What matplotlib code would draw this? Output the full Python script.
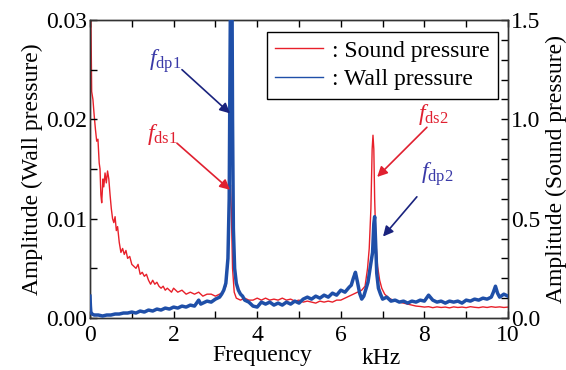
""" Spectra of sound pressure and wall pressure with dual amplitude axes """

import matplotlib.pyplot as plt
import numpy as np

plt.rcParams['font.family'] = 'serif'
plt.rcParams['font.serif'] = ['Liberation Serif', 'Times New Roman', 'DejaVu Serif']
plt.rcParams['mathtext.fontset'] = 'custom'
plt.rcParams['mathtext.rm'] = 'Liberation Serif'
plt.rcParams['mathtext.it'] = 'Liberation Serif:italic'

# sound pressure (right axis), kHz / amplitude
freq_sound = [0.00, 0.02, 0.04, 0.07, 0.10, 0.13, 0.16, 0.19, 0.22, 0.24,
              0.26, 0.28, 0.31, 0.33, 0.36, 0.39, 0.42, 0.45, 0.48, 0.51,
              0.54, 0.57, 0.60, 0.63, 0.66, 0.70, 0.74, 0.78, 0.82, 0.86,
              0.90, 0.95, 1.00, 1.05, 1.10, 1.15, 1.20, 1.25, 1.30, 1.35,
              1.40, 1.45, 1.50, 1.55, 1.60, 1.65, 1.70, 1.75, 1.80, 1.85,
              1.90, 1.95, 2.00, 2.10, 2.20, 2.30, 2.40, 2.50, 2.60, 2.70,
              2.80, 2.90, 3.00, 3.10, 3.18, 3.25, 3.30, 3.34, 3.36, 3.38,
              3.41, 3.45, 3.50, 3.60, 3.70, 3.80, 3.90, 4.00, 4.10, 4.20,
              4.30, 4.40, 4.50, 4.60, 4.70, 4.80, 4.90, 5.00, 5.10, 5.20,
              5.30, 5.40, 5.50, 5.60, 5.70, 5.80, 5.90, 6.00, 6.10, 6.20,
              6.30, 6.40, 6.50, 6.58, 6.64, 6.68, 6.72, 6.75, 6.77, 6.79,
              6.81, 6.84, 6.88, 6.93, 6.98, 7.05, 7.15, 7.25, 7.40, 7.50,
              7.60, 7.70, 7.80, 7.90, 8.00, 8.10, 8.20, 8.30, 8.40, 8.50,
              8.60, 8.70, 8.80, 8.90, 9.00, 9.10, 9.20, 9.30, 9.40, 9.50,
              9.60, 9.70, 9.80, 9.90, 10.00]
amp_sound = [1.60, 1.55, 1.14, 1.10, 1.02, 0.95, 0.89, 0.90, 0.78, 0.75,
             0.62, 0.58, 0.70, 0.66, 0.73, 0.68, 0.74, 0.70, 0.62, 0.55,
             0.50, 0.48, 0.51, 0.44, 0.46, 0.38, 0.33, 0.35, 0.32, 0.34,
             0.30, 0.31, 0.27, 0.26, 0.25, 0.27, 0.22, 0.23, 0.21, 0.22,
             0.19, 0.17, 0.19, 0.17, 0.18, 0.16, 0.15, 0.16, 0.14, 0.15,
             0.14, 0.13, 0.15, 0.13, 0.14, 0.12, 0.13, 0.12, 0.13, 0.11,
             0.12, 0.12, 0.11, 0.12, 0.13, 0.16, 0.28, 0.60, 0.67, 0.55,
             0.25, 0.13, 0.10, 0.09, 0.10, 0.09, 0.09, 0.10, 0.09, 0.10,
             0.09, 0.095, 0.09, 0.10, 0.09, 0.095, 0.085, 0.09, 0.08, 0.085,
             0.08, 0.075, 0.085, 0.08, 0.085, 0.08, 0.09, 0.09, 0.10, 0.11,
             0.12, 0.13, 0.14, 0.16, 0.25, 0.35, 0.55, 0.85, 0.92, 0.85,
             0.60, 0.38, 0.26, 0.19, 0.15, 0.12, 0.10, 0.09, 0.08, 0.075,
             0.07, 0.065, 0.06, 0.058, 0.055, 0.057, 0.052, 0.056, 0.053, 0.055,
             0.051, 0.056, 0.053, 0.055, 0.052, 0.057, 0.054, 0.052, 0.056, 0.053,
             0.057, 0.054, 0.056, 0.053, 0.055]

# wall pressure (left axis), kHz / amplitude
freq_wall = [0.00, 0.01, 0.02, 0.05, 0.10, 0.20, 0.30, 0.40, 0.50, 0.60,
             0.70, 0.80, 0.90, 1.00, 1.10, 1.20, 1.30, 1.40, 1.50, 1.60,
             1.70, 1.80, 1.90, 2.00, 2.10, 2.20, 2.30, 2.40, 2.50, 2.60,
             2.65, 2.70, 2.80, 2.90, 3.00, 3.10, 3.15, 3.20, 3.25, 3.30,
             3.33, 3.35, 3.37, 3.39, 3.41, 3.43, 3.46, 3.50, 3.55, 3.60,
             3.65, 3.70, 3.80, 3.90, 4.00, 4.10, 4.20, 4.30, 4.40, 4.50,
             4.60, 4.70, 4.80, 4.90, 5.00, 5.10, 5.20, 5.30, 5.40, 5.50,
             5.60, 5.70, 5.80, 5.90, 6.00, 6.10, 6.20, 6.25, 6.30, 6.35,
             6.40, 6.45, 6.50, 6.55, 6.60, 6.65, 6.70, 6.73, 6.76, 6.79,
             6.81, 6.83, 6.86, 6.90, 6.95, 7.00, 7.10, 7.20, 7.30, 7.40,
             7.50, 7.60, 7.70, 7.80, 7.90, 8.00, 8.10, 8.20, 8.30, 8.40,
             8.50, 8.60, 8.70, 8.80, 8.90, 9.00, 9.10, 9.20, 9.30, 9.40,
             9.50, 9.60, 9.65, 9.70, 9.75, 9.80, 9.90, 10.00]
amp_wall = [0.0022, 0.0012, 0.0006, 0.0004, 0.0003, 0.0003, 0.0002, 0.0003, 0.0003, 0.0004,
            0.0004, 0.0005, 0.0005, 0.0006, 0.0005, 0.0007, 0.0006, 0.0008, 0.0007, 0.0009,
            0.0008, 0.0010, 0.0009, 0.0011, 0.0010, 0.0012, 0.0011, 0.0013, 0.0012, 0.0018,
            0.0014, 0.0015, 0.0017, 0.0016, 0.0019, 0.0021, 0.0024, 0.0028, 0.0035, 0.0060,
            0.0120, 0.0250, 0.0400, 0.0400, 0.0200, 0.0090, 0.0050, 0.0035, 0.0028, 0.0024,
            0.0022, 0.0018, 0.0016, 0.0012, 0.0011, 0.0016, 0.0014, 0.0016, 0.0013, 0.0015,
            0.0013, 0.0016, 0.0014, 0.0017, 0.0015, 0.0019, 0.0021, 0.0019, 0.0022, 0.0020,
            0.0023, 0.0021, 0.0025, 0.0023, 0.0028, 0.0026, 0.0031, 0.0033, 0.0040, 0.0046,
            0.0036, 0.0025, 0.0019, 0.0022, 0.0029, 0.0036, 0.0050, 0.0058, 0.0066, 0.0095,
            0.0102, 0.0080, 0.0045, 0.0030, 0.0024, 0.0019, 0.0021, 0.0017, 0.0018, 0.0016,
            0.0017, 0.0015, 0.0017, 0.0016, 0.0018, 0.0017, 0.0023, 0.0018, 0.0016, 0.0017,
            0.0015, 0.0017, 0.0016, 0.0017, 0.0015, 0.0018, 0.0017, 0.0019, 0.0018, 0.0020,
            0.0019, 0.0021, 0.0026, 0.0032, 0.0025, 0.0021, 0.0024, 0.0022]

# peak labels: text spot, arrow tail, arrow head (kHz, wall-pressure units)
peak_labels = [r"$f_{\rm dp1}$", r"$f_{\rm ds1}$", r"$f_{\rm ds2}$", r"$f_{\rm dp2}$"]
peak_text = [(1.79, 0.0259), (1.72, 0.0185), (8.21, 0.0205), (8.30, 0.0145)]
peak_tail = [(2.20, 0.0250), (2.08, 0.0176), (8.06, 0.0192), (7.82, 0.0122)]
peak_head = [(3.35, 0.0206), (3.35, 0.0129), (6.87, 0.0142), (7.01, 0.0082)]

red = "#e8202a"
blue = "#1f4fa8"
text_colors = ["#3a3aa8", "#e02030", "#e02030", "#3a3aa8"]
arrow_colors = ["#1a237e", "#e02030", "#e02030", "#1a237e"]

fig = plt.figure(figsize=(5.66, 3.70), dpi=100)
fig.subplots_adjust(left=90/566, right=508/566, bottom=1-318/370, top=1-20/370)
ax = fig.add_subplot(111)
ax2 = ax.twinx()

ax.plot(freq_wall, amp_wall, color=blue, lw=2.5, zorder=3, label=": Wall pressure")
ax2.plot(freq_sound, amp_sound, color=red, lw=1.0, label=": Sound pressure")
# wall trace on top of the sound trace
ax.set_zorder(ax2.get_zorder() + 1)
ax.patch.set_visible(False)

ax.set_xlim(0, 10)
ax.set_ylim(0, 0.03)
ax2.set_ylim(0, 1.5)
ax.set_xticks([0, 2, 4, 6, 8, 10])
ax.set_xticks(np.arange(0, 10, 1), minor=True)
ax.set_yticks([0.00, 0.01, 0.02, 0.03])
ax.set_yticklabels(["0.00", "0.01", "0.02", "0.03"])
ax.set_yticks([0.005, 0.015, 0.025], minor=True)
ax2.set_yticks([0.0, 0.5, 1.0, 1.5])
ax2.set_yticklabels(["0.0", "0.5", "1.0", "1.5"])
ax2.set_yticks(np.arange(0, 1.5, 0.1), minor=True)

for a in (ax, ax2):
    a.tick_params(which="both", direction="in", labelsize=17, length=5, width=1)
    a.tick_params(which="minor", length=5)
    for s in a.spines.values():
        s.set_linewidth(1.0)
        s.set_color("#333333")
ax.tick_params(which="both", top=True, right=False)
ax.tick_params(axis="x", pad=5)
ax.tick_params(axis="y", pad=2)
ax2.tick_params(axis="y", pad=2)

ax.set_ylabel("Amplitude (Wall pressure)", fontsize=17, labelpad=2)
ax2.set_ylabel("Amplitude (Sound pressure)", fontsize=17, labelpad=4)
fig.text(262/566, 1-355/370, "Frequency", fontsize=17, ha="center", va="center")
fig.text(381/566, 1-359/370, "kHz", fontsize=17, ha="center", va="center")

h1, l1 = ax2.get_legend_handles_labels()
h2, l2 = ax.get_legend_handles_labels()
leg = ax.legend(h1 + h2, l1 + l2, loc="upper right", bbox_to_anchor=(0.976, 0.96),
                fontsize=17, frameon=True, fancybox=False, edgecolor="black",
                framealpha=1, handlelength=2.0, handletextpad=0.4,
                borderpad=0.35, labelspacing=0.3, borderaxespad=0)
leg.get_frame().set_linewidth(1.0)
for ln in leg.get_lines():
    ln.set_linewidth(1.0)

for lab, pt, tail, head, tc, ac in zip(peak_labels, peak_text, peak_tail, peak_head,
                                      text_colors, arrow_colors):
    ax.text(pt[0], pt[1], lab, color=tc, fontsize=17, ha="center", va="center")
    ax.annotate("", xy=head, xytext=tail,
                arrowprops=dict(arrowstyle="-|>", color=ac, lw=1.2,
                                mutation_scale=15, shrinkA=0, shrinkB=0))

fig.savefig("out.png", dpi=100)
